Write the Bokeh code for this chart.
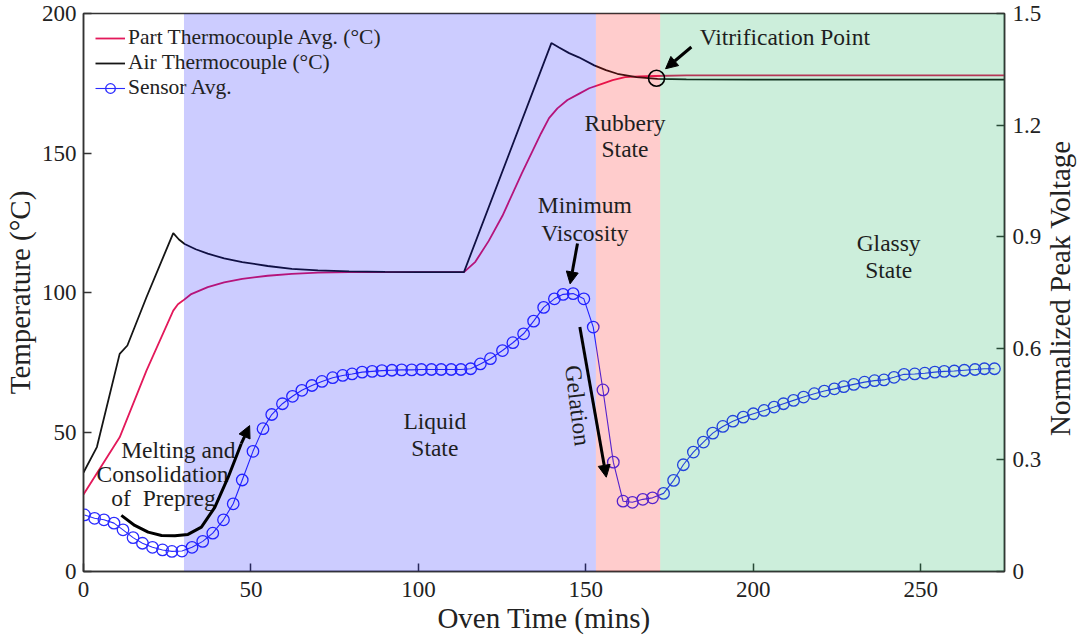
from bokeh.plotting import figure
from bokeh.layouts import row
from bokeh.core.properties import value
from bokeh.models import (Range1d, LinearAxis, FixedTicker, BoxAnnotation, Label,
                          Arrow, NormalHead, Legend, LegendItem)
from bokeh.embed import file_html
from bokeh.resources import INLINE

# ---- data -------------------------------------------------------------
air_time = [0, 4.0, 10.8, 13.1, 18.8, 26.8, 28.5, 30.2, 33.5, 37.1, 42, 47.4, 55,
            62.2, 70, 79.3, 90, 100, 113.6, 139.7, 142, 145, 147.9, 152.5, 156,
            159.4, 165.1, 171.4, 180, 200, 230, 275]
air_temp = [35.5, 44.6, 78.0, 81.0, 98.3, 121.3, 119.0, 117.4, 115.5, 113.9, 112.2,
            110.9, 109.5, 108.5, 107.9, 107.6, 107.4, 107.3, 107.3, 189.4, 187.8,
            185.8, 184.3, 181.4, 179.7, 178.4, 177.2, 176.6, 176.4, 176.3, 176.3, 176.3]

part_time = [0, 10.8, 18.8, 26.8, 28.2, 29.7, 32, 37.1, 42, 47.4, 55, 62.2, 70, 79.3,
             90, 100, 113.6, 117, 121, 125.1, 130.8, 136.6, 139, 141.5, 144.5, 147.9,
             151, 154.8, 158, 161.7, 166, 170.8, 180, 200, 230, 275]
part_temp = [27.6, 48.1, 72.0, 93.5, 95.8, 97.1, 99.3, 101.9, 103.6, 104.9, 106.0,
             106.7, 107.1, 107.3, 107.3, 107.3, 107.3, 111.0, 118.5, 127.5, 142.5,
             157.0, 162.5, 166.0, 169.0, 171.2, 173.2, 174.8, 176.1, 177.2, 177.5,
             177.6, 177.8, 177.8, 177.8, 177.8]

sensor_time = [0.3, 3.3, 6.1, 9.1, 11.8, 14.8, 17.6, 20.6, 23.6, 26.4, 29.4, 32.4,
               35.6, 38.6, 41.8, 44.7, 47.4, 50.6, 53.6, 56.2, 59.4, 62.4, 65.2,
               68.2, 71.2, 74.4, 77.4, 80.2, 83.2, 86.2, 89.1, 92.1, 95.0, 98.0,
               100.9, 103.9, 106.8, 109.8, 112.7, 115.6, 118.5, 121.5, 125.1, 128.2,
               131.4, 134.4, 137.4, 140.6, 143.2, 146.2, 149.4, 152.2, 155.1, 158.2,
               161.1, 163.9, 167.0, 169.9, 173.2, 176.2, 179.1, 182.1, 185.1, 187.9,
               190.9, 193.9, 197.0, 200.0, 203.2, 206.2, 209.0, 212.0, 215.0, 218.2,
               221.2, 224.2, 227.0, 230.0, 233.2, 236.2, 239.0, 242.0, 245.0, 248.2,
               251.2, 254.2, 257.0, 260.0, 263.0, 266.2, 269.0, 272.0]
sensor_volt = [0.152, 0.143, 0.139, 0.130, 0.112, 0.091, 0.076, 0.065, 0.058, 0.054,
               0.055, 0.065, 0.081, 0.103, 0.139, 0.182, 0.246, 0.323, 0.384, 0.422,
               0.451, 0.471, 0.487, 0.500, 0.511, 0.521, 0.527, 0.531, 0.536, 0.538,
               0.540, 0.541, 0.542, 0.542, 0.543, 0.543, 0.543, 0.543, 0.543, 0.545,
               0.558, 0.572, 0.594, 0.615, 0.639, 0.673, 0.710, 0.733, 0.745, 0.747,
               0.733, 0.657, 0.488, 0.294, 0.189, 0.186, 0.194, 0.198, 0.210, 0.245,
               0.287, 0.321, 0.348, 0.372, 0.390, 0.404, 0.415, 0.424, 0.433, 0.442,
               0.451, 0.460, 0.469, 0.478, 0.485, 0.491, 0.497, 0.503, 0.509, 0.513,
               0.515, 0.522, 0.530, 0.531, 0.533, 0.536, 0.538, 0.539, 0.541, 0.543,
               0.545, 0.545]

# cure-state boundaries (minutes)
liquid_start = 30
rubbery_start = 153
glassy_start = 172.2

x_ticks = [0, 50, 100, 150, 200, 250]
temp_ticks = [0, 50, 100, 150, 200]
volt_ticks = [0, 0.3, 0.6, 0.9, 1.2, 1.5]

FONT = "Liberation Serif"
INK = "#1e1e1e"

# ---- main figure ------------------------------------------------------
p = figure(width=1045, height=642, x_range=Range1d(0, 275), y_range=Range1d(0, 200),
           output_backend="svg", toolbar_location=None,
           min_border_left=82, min_border_right=41, min_border_top=13,
           min_border_bottom=71, background_fill_color="white",
           border_fill_color="white")
p.extra_y_ranges = {"volt": Range1d(0, 1.5)}
p.xgrid.visible = False
p.ygrid.visible = False
p.outline_line_color = "#333333"
p.outline_line_width = 1.5
p.outline_line_alpha = 1.0


def style_axis(ax, standoff, title_standoff):
    ax.major_tick_in = 8
    ax.major_tick_out = 0
    ax.minor_tick_in = 0
    ax.minor_tick_out = 0
    ax.axis_line_color = "#333333"
    ax.axis_line_width = 1.5
    ax.major_tick_line_color = "#333333"
    ax.major_tick_line_width = 1.5
    ax.major_label_text_font = FONT
    ax.major_label_text_font_size = "23px"
    ax.major_label_text_color = "#222222"
    ax.major_label_standoff = standoff
    ax.axis_label_text_font = FONT
    ax.axis_label_text_font_size = "29px"
    ax.axis_label_text_font_style = "normal"
    ax.axis_label_text_color = "#222222"
    ax.axis_label_standoff = title_standoff


p.xaxis.ticker = FixedTicker(ticks=x_ticks)
p.xaxis.axis_label = "Oven Time (mins)"
style_axis(p.xaxis[0], 10, 2)

p.yaxis.ticker = FixedTicker(ticks=temp_ticks)
p.yaxis.axis_label = "Temperature (°C)"
style_axis(p.yaxis[0], 7, 3)

ax_r = LinearAxis(y_range_name="volt", ticker=FixedTicker(ticks=volt_ticks))
ax_r.major_label_overrides = {v: ("0" if v == 0 else f"{v:.1f}") for v in volt_ticks}
style_axis(ax_r, 8, 7)
p.add_layout(ax_r, "right")

# ---- curves -----------------------------------------------------------
r_part = p.line(part_time, part_temp, line_color="#e3195b", line_width=1.8)
r_air = p.line(air_time, air_temp, line_color="#151515", line_width=1.8)
r_sline = p.line(sensor_time, sensor_volt, y_range_name="volt",
                 line_color="#2b2bff", line_width=1.1)
r_sdots = p.scatter(sensor_time, sensor_volt, y_range_name="volt", marker="circle",
                    size=11.5, fill_alpha=0, line_color="#2b2bff", line_width=1.3)

# ---- cure-state shading (translucent, over the curves) -----------------
p.add_layout(BoxAnnotation(left=liquid_start, right=rubbery_start,
                           fill_color="#0000ff", fill_alpha=0.2, line_alpha=0))
p.add_layout(BoxAnnotation(left=rubbery_start, right=glassy_start,
                           fill_color="#ff0000", fill_alpha=0.2, line_alpha=0))
p.add_layout(BoxAnnotation(left=glassy_start, right=275,
                           fill_color="#00aa4b", fill_alpha=0.2, line_alpha=0))

# ---- annotations ------------------------------------------------------
def note(x, y, text, angle=0):
    p.add_layout(Label(x=x, y=y, text=text, text_font=FONT, text_font_size="23.5px",
                       text_color=INK, text_align="center", text_baseline="middle",
                       angle=angle, angle_units="deg"))


note(161.7, 160.9, "Rubbery")
note(161.7, 151.6, "State")
note(149.7, 131.5, "Minimum")
note(149.7, 121.5, "Viscosity")
note(240.4, 117.6, "Glassy")
note(240.4, 107.9, "State")
note(104.9, 53.8, "Liquid")
note(104.9, 44.1, "State")
note(28.3, 43.5, "Melting and")
note(23.6, 34.8, "Consolidation")
note(23.9, 26.2, "of\u00a0\u00a0Prepreg")
note(209.4, 191.4, "Vitrification Point")
note(147.6, 59.5, "Gelation", angle=-83)


def arrow(x0, y0, x1, y1):
    p.add_layout(Arrow(end=NormalHead(size=12, fill_color="black", line_color="black",
                                      line_width=1),
                       x_start=x0, y_start=y0, x_end=x1, y_end=y1,
                       line_color="black", line_width=3))


# curved "melting" arrow
melt_x = [11.3, 15.3, 19.3, 23.3, 27.3, 31.2, 35.2, 39.2, 43.2, 47.1]
melt_y = [20.1, 16.5, 14.1, 12.9, 12.8, 13.3, 15.9, 23.0, 33.8, 45.8]
p.line(melt_x, melt_y, line_color="black", line_width=3, level="overlay")
arrow(47.1, 45.8, 49.6, 52.3)

arrow(147.5, 117.6, 145.3, 103.1)   # minimum viscosity
arrow(148.2, 87.6, 156.1, 33.8)     # gelation
arrow(181.5, 188.0, 173.8, 180.2)   # vitrification

# vitrification marker ring
p.scatter([171.1], [176.8], marker="circle", size=16, fill_alpha=0,
          line_color="black", line_width=1.6, level="overlay")

# ---- legend -----------------------------------------------------------
legend = Legend(items=[
    LegendItem(label="Part Thermocouple Avg. (°C)", renderers=[r_part]),
    LegendItem(label="Air Thermocouple (°C)", renderers=[r_air]),
    LegendItem(label="Sensor Avg.", renderers=[r_sline, r_sdots]),
], location="top_left", margin=0, padding=12, spacing=0, glyph_width=30,
    glyph_height=24, label_height=24, label_standoff=3, background_fill_alpha=0,
    border_line_alpha=0, label_text_font=FONT, label_text_font_size="21.5px",
    label_text_color="#222222")
p.add_layout(legend)

# ---- right-hand title strip (reads bottom to top) ----------------------
t = figure(width=36, height=642, x_range=Range1d(0, 36), y_range=Range1d(0, 642),
           output_backend="svg", toolbar_location=None, min_border=0,
           background_fill_color="white", border_fill_color="white")
t.axis.visible = False
t.grid.visible = False
t.outline_line_color = None
t.text(x=[14], y=[326], text=["Normalized Peak Voltage"], angle=90, angle_units="deg",
       text_align="center", text_baseline="middle", text_font=value(FONT),
       text_font_size="29px", text_color="#222222")

layout = row(p, t, spacing=0)
open("out.html", "w").write(file_html(layout, INLINE))
